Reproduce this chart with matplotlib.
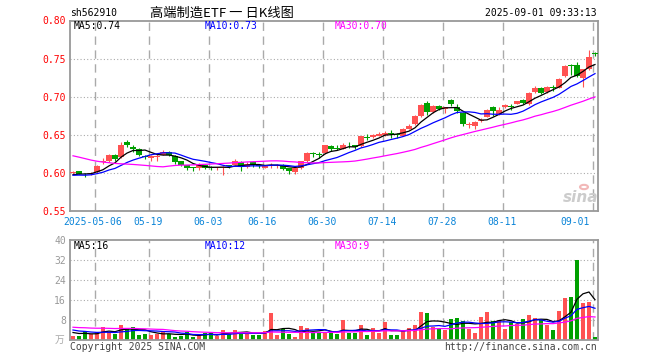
import matplotlib
matplotlib.use("Agg")
import matplotlib.pyplot as plt
import matplotlib.patches as mpatches
import numpy as np
import pandas as pd

# ---------------- data ----------------
holidays = ["2025-05-01", "2025-05-02", "2025-05-05", "2025-06-02"]
dates = [d for d in pd.bdate_range("2025-04-25", "2025-09-01")
         if d.strftime("%Y-%m-%d") not in holidays]

opens = [0.600, 0.602, 0.599, 0.598, 0.601, 0.614, 0.615, 0.624, 0.621, 0.641,
         0.634, 0.632, 0.622, 0.619, 0.621, 0.624, 0.628, 0.622, 0.615, 0.610,
         0.607, 0.606, 0.611, 0.608, 0.606, 0.606, 0.610, 0.611, 0.614, 0.608,
         0.614, 0.610, 0.607, 0.609, 0.609, 0.611, 0.606, 0.601, 0.607, 0.615,
         0.626, 0.624, 0.626, 0.635, 0.633, 0.632, 0.637, 0.636, 0.635, 0.647,
         0.647, 0.649, 0.650, 0.652, 0.651, 0.649, 0.658, 0.664, 0.675, 0.692,
         0.680, 0.688, 0.684, 0.696, 0.687, 0.679, 0.663, 0.662, 0.668, 0.674,
         0.687, 0.677, 0.686, 0.688, 0.691, 0.696, 0.690, 0.706, 0.711, 0.706,
         0.712, 0.712, 0.727, 0.741, 0.741, 0.724, 0.736, 0.757]
highs = [0.602, 0.603, 0.600, 0.601, 0.610, 0.620, 0.625, 0.625, 0.640, 0.643,
         0.637, 0.633, 0.624, 0.624, 0.625, 0.630, 0.629, 0.623, 0.616, 0.611,
         0.608, 0.613, 0.612, 0.609, 0.608, 0.609, 0.611, 0.618, 0.615, 0.614,
         0.615, 0.611, 0.611, 0.613, 0.612, 0.612, 0.607, 0.607, 0.615, 0.627,
         0.628, 0.627, 0.637, 0.637, 0.636, 0.639, 0.641, 0.637, 0.648, 0.651,
         0.651, 0.654, 0.655, 0.656, 0.652, 0.659, 0.664, 0.676, 0.690, 0.695,
         0.689, 0.689, 0.687, 0.697, 0.690, 0.680, 0.667, 0.668, 0.672, 0.684,
         0.688, 0.687, 0.690, 0.690, 0.695, 0.697, 0.706, 0.714, 0.713, 0.714,
         0.715, 0.724, 0.741, 0.743, 0.745, 0.737, 0.761, 0.759]
lows = [0.599, 0.598, 0.594, 0.597, 0.600, 0.612, 0.614, 0.616, 0.620, 0.634,
        0.627, 0.622, 0.618, 0.615, 0.616, 0.623, 0.622, 0.612, 0.609, 0.604,
        0.603, 0.604, 0.605, 0.604, 0.604, 0.597, 0.607, 0.610, 0.602, 0.606,
        0.608, 0.606, 0.606, 0.607, 0.607, 0.604, 0.598, 0.598, 0.605, 0.614,
        0.621, 0.620, 0.625, 0.629, 0.630, 0.631, 0.633, 0.632, 0.634, 0.643,
        0.646, 0.648, 0.649, 0.646, 0.646, 0.648, 0.657, 0.663, 0.674, 0.676,
        0.679, 0.683, 0.678, 0.688, 0.679, 0.661, 0.659, 0.658, 0.667, 0.673,
        0.675, 0.676, 0.685, 0.682, 0.690, 0.691, 0.689, 0.705, 0.704, 0.705,
        0.707, 0.711, 0.726, 0.728, 0.726, 0.713, 0.735, 0.753]
closes = [0.601, 0.599, 0.598, 0.600, 0.609, 0.615, 0.624, 0.618, 0.637, 0.636,
          0.632, 0.624, 0.621, 0.622, 0.622, 0.628, 0.624, 0.614, 0.611, 0.607,
          0.606, 0.611, 0.607, 0.606, 0.607, 0.607, 0.609, 0.616, 0.608, 0.612,
          0.610, 0.609, 0.610, 0.611, 0.611, 0.605, 0.603, 0.606, 0.615, 0.626,
          0.625, 0.623, 0.636, 0.631, 0.632, 0.637, 0.636, 0.634, 0.648, 0.646,
          0.650, 0.651, 0.653, 0.651, 0.650, 0.658, 0.662, 0.675, 0.689, 0.680,
          0.688, 0.684, 0.686, 0.690, 0.681, 0.664, 0.664, 0.667, 0.670, 0.683,
          0.681, 0.683, 0.689, 0.687, 0.694, 0.692, 0.705, 0.712, 0.705, 0.713,
          0.711, 0.723, 0.740, 0.740, 0.727, 0.736, 0.752, 0.756]
volumes = [1.6, 1.6, 3.6, 2.4, 3.3, 5.2, 3.3, 2.4, 6.0, 4.8,
           5.2, 2.1, 2.4, 2.0, 2.4, 3.3, 2.4, 1.3, 1.6, 3.3,
           1.3, 1.6, 2.7, 2.7, 1.6, 4.0, 2.4, 4.0, 3.3, 2.4,
           2.0, 2.0, 3.7, 10.9, 2.0, 4.3, 2.4, 1.3, 5.6, 4.8,
           3.3, 3.3, 3.3, 2.7, 2.4, 8.0, 2.7, 2.7, 6.0, 2.0,
           4.8, 2.7, 7.2, 2.0, 2.0, 4.0, 4.8, 6.0, 11.2, 10.8,
           5.3, 4.5, 4.0, 8.4, 8.8, 7.7, 4.5, 2.8, 9.2, 11.2,
           7.7, 8.0, 4.5, 7.2, 6.4, 8.4, 10.0, 8.8, 8.0, 6.0,
           4.0, 11.6, 16.8, 17.2, 32.0, 14.8, 15.2, 1.3]
# estimated history before the visible window (feeds the moving averages)
prior_closes = [0.652, 0.655, 0.658, 0.654, 0.650, 0.646, 0.648, 0.651, 0.649, 0.645,
                0.642, 0.640, 0.643, 0.645, 0.641, 0.595, 0.590, 0.598, 0.602, 0.600,
                0.597, 0.599, 0.595, 0.594, 0.596, 0.595, 0.597, 0.598, 0.597]
prior_volumes = [6.0, 5.5, 6.2, 5.0, 4.8, 5.2, 4.6, 5.0, 4.4, 4.8,
                 5.2, 4.5, 4.9, 5.3, 4.7, 9.8, 8.5, 6.5, 6.2, 6.0,
                 5.6, 5.2, 4.9, 4.8, 4.5, 3.6, 3.2, 3.5, 3.1]
tick_dates = ["2025-05-06", "2025-05-19", "2025-06-03", "2025-06-16", "2025-06-30",
              "2025-07-14", "2025-07-28", "2025-08-11", "2025-09-01"]
tick_labels = ["2025-05-06", "05-19", "06-03", "06-16", "06-30",
               "07-14", "07-28", "08-11", "09-01"]
price_ticks = [0.55, 0.60, 0.65, 0.70, 0.75, 0.80]
vol_ticks = [8, 16, 24, 32, 40]
ma_windows = [5, 10, 30]

# ---------------- derived ----------------
o = np.array(opens); h = np.array(highs); l = np.array(lows); c = np.array(closes)
v = np.array(volumes)
n = len(c)
x = np.arange(n)
npc = len(prior_closes)
all_c = pd.Series(list(prior_closes) + list(closes))
all_v = pd.Series(list(prior_volumes) + list(volumes))
ma_c = {w: all_c.rolling(w).mean().values[npc:] for w in ma_windows}
ma_v = {w: all_v.rolling(w).mean().values[len(prior_volumes):] for w in ma_windows}
date_str = [d.strftime("%Y-%m-%d") for d in dates]
tick_pos = [date_str.index(t) for t in tick_dates]

RED = "#ff5252"
GREEN = "#00a000"
MA_COL = {5: "#000000", 10: "#0000ff", 30: "#ff00ff"}
GRID = "#aaaaaa"
MONO = "DejaVu Sans Mono"

W, H = 660, 360
fig = plt.figure(figsize=(W / 100, H / 100), dpi=100)
fig.patch.set_facecolor("white")

def fx(px):
    return px / W

def fy(py):
    return 1 - py / H

ax = fig.add_axes([fx(70), fy(211), fx(598) - fx(70), (211 - 20.5) / H])
axv = fig.add_axes([fx(70), fy(340), fx(598) - fx(70), (340 - 240) / H])

up = c >= o
cols = np.where(up, RED, GREEN)

for a in (ax, axv):
    a.set_xlim(-0.5, n - 0.5)
    for s in a.spines.values():
        s.set_color("#999999")
        s.set_linewidth(1.3)
    a.tick_params(length=0)
    a.set_xticks([])
    for tp in tick_pos:
        a.axvline(tp - 0.4, color=GRID, lw=1.0, ls=(0, (6, 4)), zorder=0)

# ---- price panel ----
ax.set_ylim(0.55, 0.80)
for p in price_ticks[1:-1]:
    ax.axhline(p, color=GRID, lw=0.8, ls=(0, (1, 2)), zorder=0)
ax.set_yticks(price_ticks)
ax.set_yticklabels([f"{p:.2f}" for p in price_ticks], color="#ff0000",
                   fontsize=7, family=MONO)
ax.tick_params(axis="y", pad=3)

body_bottom = np.minimum(o, c)
body_h = np.maximum(np.abs(c - o), 0.0012)
ax.vlines(x, l, h, colors=cols, lw=0.8, zorder=2)
ax.bar(x, body_h, bottom=body_bottom, width=0.84, color=cols, lw=0, zorder=3,
       antialiased=False)
for w in ma_windows:
    ax.plot(x, ma_c[w], color=MA_COL[w], lw=0.9, zorder=4)

ax.text(fx(74), fy(26), f"MA5:{ma_c[5][-1]:.2f}", transform=fig.transFigure,
        color=MA_COL[5], fontsize=7, family=MONO, va="center")
ax.text(fx(205), fy(26), f"MA10:{ma_c[10][-1]:.2f}", transform=fig.transFigure,
        color=MA_COL[10], fontsize=7, family=MONO, va="center")
ax.text(fx(335), fy(26), f"MA30:{ma_c[30][-1]:.2f}", transform=fig.transFigure,
        color=MA_COL[30], fontsize=7, family=MONO, va="center")

# x tick labels (Sina style, blue)
for k, (tp, lab) in enumerate(zip(tick_pos, tick_labels)):
    px = 73 + 6 * tp - 2.5
    ha = "center"
    if k == 0:
        px, ha = 63, "left"
    elif k == len(tick_pos) - 1:
        px, ha = 590, "right"
    fig.text(fx(px), fy(222), lab, color="#0a84d8", fontsize=7, family=MONO,
             ha=ha, va="center")

# watermark
fig.text(fx(581), fy(197), "sina", color="#cccccc", fontsize=11, style="italic",
         weight="bold", ha="center", va="center", family="DejaVu Sans")
fig.patches.append(mpatches.Circle((fx(584), fy(187)), 0.006, transform=fig.transFigure,
                                   fill=False, ec="#f2b8b8", lw=1.5))

# ---- volume panel ----
axv.set_ylim(0, 40)
for t in vol_ticks[:-1]:
    axv.axhline(t, color=GRID, lw=0.8, ls=(0, (1, 2)), zorder=0)
axv.set_yticks(vol_ticks)
axv.set_yticklabels([str(t) for t in vol_ticks], color="#999999", fontsize=7, family=MONO)
axv.tick_params(axis="y", pad=3)
axv.bar(x, v, width=0.8, color=cols, lw=0, zorder=2, antialiased=False)
for w in ma_windows:
    axv.plot(x, ma_v[w], color=MA_COL[w], lw=0.9, zorder=4)

fig.text(fx(74), fy(246), f"MA5:{int(ma_v[5][-1])}", color=MA_COL[5], fontsize=7,
         family=MONO, va="center")
fig.text(fx(205), fy(246), f"MA10:{int(ma_v[10][-1])}", color=MA_COL[10], fontsize=7,
         family=MONO, va="center")
fig.text(fx(335), fy(246), f"MA30:{int(ma_v[30][-1])}", color=MA_COL[30], fontsize=7,
         family=MONO, va="center")
fig.text(fx(64), fy(340), "万", color="#aaaaaa", fontsize=7, ha="right", va="center",
         family=["Noto Sans CJK SC", "DejaVu Sans"])

# ---- header / footer ----
fig.text(fx(70), fy(13), "sh562910", fontsize=7, family=MONO, va="center", color="#000000")
fig.text(fx(150), fy(13), "高端制造ETF 一 日K线图", fontsize=9.5, va="center",
         family=["Noto Sans CJK SC", "DejaVu Sans"], color="#000000")
fig.text(fx(597), fy(13), "2025-09-01 09:33:13", fontsize=7, family=MONO, ha="right",
         va="center", color="#000000")
fig.text(fx(70), fy(347), "Copyright 2025 SINA.COM", fontsize=7, family=MONO,
         va="center", color="#444444")
fig.text(fx(597), fy(347), "http://finance.sina.com.cn", fontsize=7, family=MONO,
         ha="right", va="center", color="#444444")

fig.savefig("out.png", dpi=100)
